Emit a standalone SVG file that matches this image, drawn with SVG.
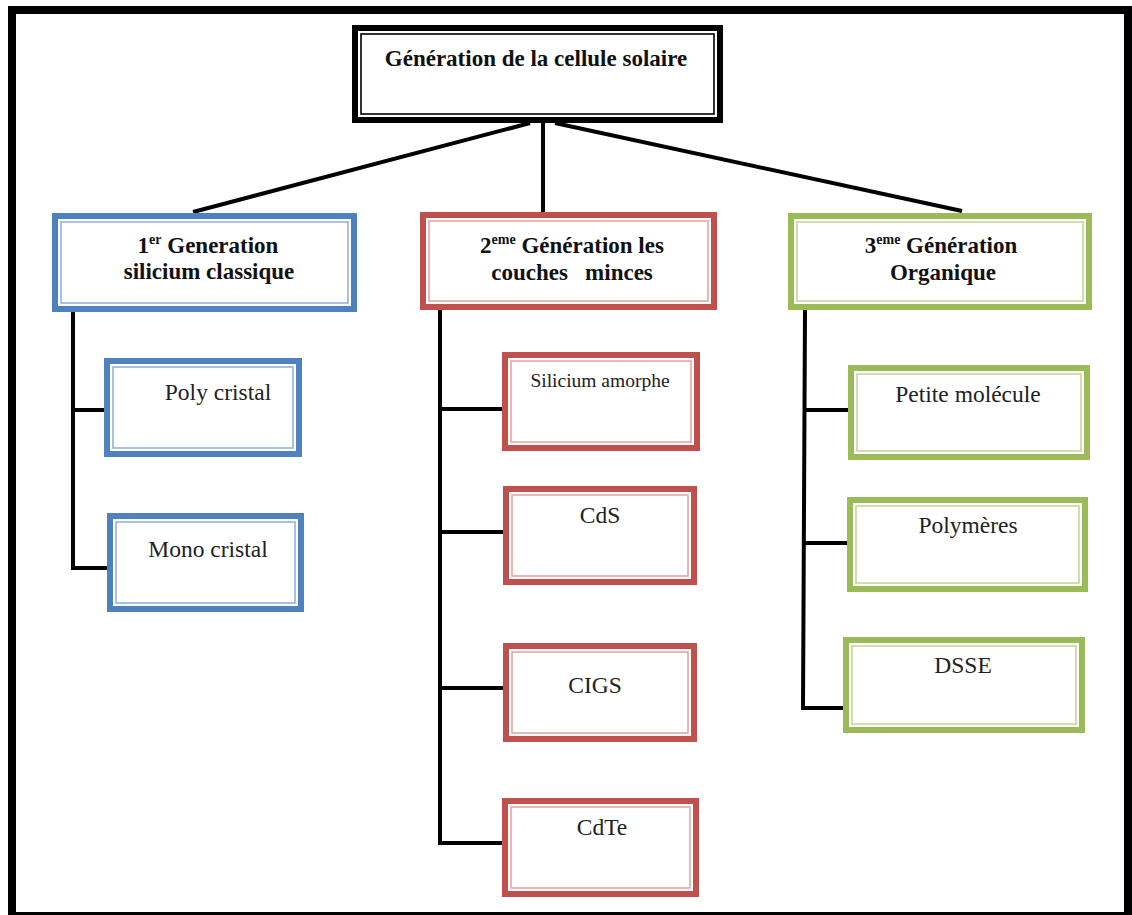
<svg xmlns="http://www.w3.org/2000/svg" width="1132" height="915" viewBox="0 0 1132 915">
<style>
.frame{fill:none;stroke:#000;stroke-width:8}
.o{fill:#fff;stroke-width:6}
.i{fill:none;stroke-width:1.6}
.blk .o{stroke:#000}.blk .i{stroke:#000}
.blu .o{stroke:#4F81BD}.blu .i{stroke:#95B3D7}
.red .o{stroke:#C0504D}.red .i{stroke:#E6A5A3}
.grn .o{stroke:#9BBB59}.grn .i{stroke:#C3D69B}
.h{font-family:"Liberation Serif",serif;font-weight:bold;font-size:23px;fill:#111;text-anchor:middle}
.t{font-family:"Liberation Serif",serif;font-size:23.5px;fill:#222;text-anchor:middle}
.sup{font-size:14px}
.c{fill:none;stroke:#000;stroke-width:4}
</style>
<rect width="1132" height="915" fill="#fff"/>
<rect class="frame" x="12" y="10" width="1116" height="906"/>
<g id="connectors">
<line class="c" x1="530" y1="123" x2="193" y2="212"/>
<line class="c" x1="543" y1="123" x2="543" y2="212"/>
<line class="c" x1="555" y1="123" x2="962" y2="211"/>
<polyline class="c" points="73,312 73,568 108,568"/>
<line class="c" x1="73" y1="410" x2="105" y2="410"/>
<polyline class="c" points="440,310 440,843 503,843"/>
<line class="c" x1="440" y1="409" x2="503" y2="409"/>
<line class="c" x1="440" y1="532" x2="504" y2="532"/>
<line class="c" x1="440" y1="688" x2="504" y2="688"/>
<polyline class="c" points="805,310 803,708 844,708"/>
<line class="c" x1="804" y1="410" x2="849" y2="410"/>
<line class="c" x1="804" y1="543" x2="848" y2="543"/>
</g>
<g id="root" class="blk">
<rect class="o" x="355" y="28" width="365" height="92"/>
<rect class="i" x="361" y="34" width="353" height="80"/>
<text class="h" x="536" y="66">Génération de la cellule solaire</text>
</g>
<g id="gen1" class="blu">
<rect class="o" x="55" y="216" width="299" height="93"/>
<rect class="i" x="61" y="222" width="287" height="81"/>
<text class="h" x="208" y="253">1<tspan class="sup" dy="-9">er</tspan><tspan dy="9"> Generation</tspan></text>
<text class="h" x="209" y="279">silicium classique</text>
</g>
<g id="gen2" class="red">
<rect class="o" x="423" y="215" width="291" height="92"/>
<rect class="i" x="429" y="221" width="279" height="80"/>
<text class="h" x="572" y="253">2<tspan class="sup" dy="-9">eme</tspan><tspan dy="9"> Génération les</tspan></text>
<text class="h" x="572" y="280" xml:space="preserve">couches   minces</text>
</g>
<g id="gen3" class="grn">
<rect class="o" x="791" y="216" width="298" height="91"/>
<rect class="i" x="797" y="222" width="286" height="79"/>
<text class="h" x="941" y="253">3<tspan class="sup" dy="-9">eme</tspan><tspan dy="9"> Génération</tspan></text>
<text class="h" x="943" y="280">Organique</text>
</g>
<g id="poly" class="blu">
<rect class="o" x="107" y="361" width="192" height="93"/>
<rect class="i" x="113" y="367" width="180" height="81"/>
<text class="t" x="218" y="400">Poly cristal</text>
</g>
<g id="mono" class="blu">
<rect class="o" x="110" y="516" width="191" height="93"/>
<rect class="i" x="116" y="522" width="179" height="81"/>
<text class="t" x="208" y="557">Mono cristal</text>
</g>
<g id="sia" class="red">
<rect class="o" x="505" y="355" width="192" height="93"/>
<rect class="i" x="511" y="361" width="180" height="81"/>
<text class="t" x="600" y="387" style="font-size:19.5px">Silicium amorphe</text>
</g>
<g id="cds" class="red">
<rect class="o" x="506" y="489" width="188" height="93"/>
<rect class="i" x="512" y="495" width="176" height="81"/>
<text class="t" x="600" y="523">CdS</text>
</g>
<g id="cigs" class="red">
<rect class="o" x="506" y="646" width="188" height="93"/>
<rect class="i" x="512" y="652" width="176" height="81"/>
<text class="t" x="595" y="693">CIGS</text>
</g>
<g id="cdte" class="red">
<rect class="o" x="505" y="801" width="191" height="93"/>
<rect class="i" x="511" y="807" width="179" height="81"/>
<text class="t" x="602" y="835">CdTe</text>
</g>
<g id="petite" class="grn">
<rect class="o" x="851" y="368" width="236" height="89"/>
<rect class="i" x="857" y="374" width="224" height="77"/>
<text class="t" x="968" y="402">Petite molécule</text>
</g>
<g id="polym" class="grn">
<rect class="o" x="850" y="500" width="235" height="89"/>
<rect class="i" x="856" y="506" width="223" height="77"/>
<text class="t" x="968" y="533">Polymères</text>
</g>
<g id="dsse" class="grn">
<rect class="o" x="846" y="640" width="236" height="90"/>
<rect class="i" x="852" y="646" width="224" height="78"/>
<text class="t" x="963" y="673">DSSE</text>
</g>
</svg>
